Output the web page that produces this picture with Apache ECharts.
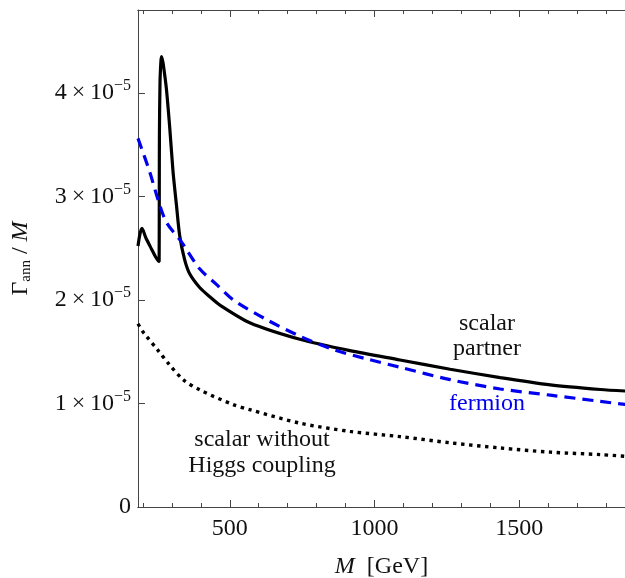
<!DOCTYPE html>
<html>
<head>
<meta charset="utf-8">
<script src="https://cdn.jsdelivr.net/npm/echarts@6.0.0/dist/echarts.min.js"></script>
<style>
  html, body { margin: 0; padding: 0; background: #fff; }
  #chart { width: 625px; height: 578px; }
</style>
</head>
<body>
<div id="chart"></div>
<script>
// values, y in units of 1e-5
var scalarPartner = [
  [183, 2.52], [190, 2.64], [197, 2.69], [210, 2.6], [230, 2.49], [245, 2.41], [256, 2.37],
  [256.5, 3.0], [257, 3.6], [259, 4.1], [262, 4.3], [264, 4.35], [267, 4.32], [270, 4.28],
  [281, 4.04], [293, 3.65], [304, 3.24], [316, 2.91], [327, 2.62], [344, 2.39], [362, 2.25],
  [396, 2.12], [431, 2.03], [466, 1.95], [569, 1.78], [742, 1.62], [915, 1.51], [1088, 1.42],
  [1261, 1.33], [1434, 1.25], [1607, 1.18], [1780, 1.135], [1866, 1.12]
]
var fermion = [
  [183, 3.56], [223, 3.24], [252, 2.97], [281, 2.75], [333, 2.56], [396, 2.3], [454, 2.15],
  [512, 2.0], [627, 1.81], [742, 1.65], [858, 1.52], [973, 1.43], [1088, 1.35], [1261, 1.23],
  [1434, 1.14], [1607, 1.08], [1780, 1.02], [1866, 0.99]
]
var scalarNoHiggs = [
  [183, 1.77], [198, 1.7], [212, 1.65], [250, 1.52], [290, 1.38], [339, 1.23], [397, 1.13],
  [511, 0.99], [569, 0.94], [742, 0.81], [915, 0.73], [1088, 0.68], [1261, 0.62], [1434, 0.57],
  [1607, 0.53], [1780, 0.506], [1866, 0.49]
]
var majorTicks = [500, 1000, 1500]
var minorTicks = [200, 300, 400, 600, 700, 800, 900, 1100, 1200, 1300, 1400, 1600, 1700, 1800]
var yTicks = [0, 1, 2, 3, 4]

var serif = 'Liberation Serif'
var frameColor = '#444'
var txt = '#111'

function xAxisDef(pos, ticks, len, labels) {
  return {
    type: 'value',
    position: pos,
    min: 183,
    max: 1865,
    splitLine: { show: false },
    axisLine: { show: true, onZero: false, lineStyle: { color: frameColor, width: 1 } },
    axisTick: { show: true, inside: true, length: len, customValues: ticks, lineStyle: { color: frameColor } },
    axisLabel: labels ? {
      customValues: majorTicks,
      formatter: function (v) { return String(v) },
      fontFamily: serif, fontSize: 24, color: txt, margin: 10
    } : { show: false }
  }
}

var xAxes = [
  xAxisDef('bottom', majorTicks, 7, true),
  xAxisDef('bottom', minorTicks, 4, false),
  xAxisDef('top', majorTicks, 7, false),
  xAxisDef('top', minorTicks, 4, false)
]
xAxes[0].name = '{i|M}{g|  [GeV]}'
xAxes[0].nameLocation = 'middle'
xAxes[0].nameGap = 48
xAxes[0].nameTextStyle = {
  rich: {
    i: { fontFamily: serif, fontStyle: 'italic', fontSize: 24, color: txt },
    g: { fontFamily: serif, fontSize: 24, color: txt }
  }
}

var myChart = echarts.init(document.getElementById('chart'))

var option = {
  animation: false,
  grid: { left: 138, right: 0, top: 10, bottom: 71, containLabel: false, outerBoundsMode: 'none' },
  xAxis: xAxes,
  yAxis: [{
    type: 'value',
    min: 0,
    max: 4.8,
    interval: 1,
    splitLine: { show: false },
    axisLine: { show: true, lineStyle: { color: frameColor, width: 1 } },
    axisTick: { show: true, inside: true, length: 7, customValues: yTicks, lineStyle: { color: frameColor } },
    axisLabel: {
      customValues: yTicks,
      margin: 7,
      formatter: function (v) {
        if (v === 0) return '{n|0}'
        return '{n|' + v + '\u2009\u00d7\u200910}{sup|\u22125}'
      },
      rich: {
        n: { fontFamily: serif, fontSize: 24, color: txt },
        sup: { fontFamily: serif, fontSize: 16, color: txt, padding: [0, 0, 14, 0] }
      }
    },
    name: '{g|\u0393}{sub|ann}{g| / }{i|M}',
    nameLocation: 'middle',
    nameGap: 104,
    nameTextStyle: {
      rich: {
        g: { fontFamily: serif, fontSize: 24, color: txt },
        i: { fontFamily: serif, fontStyle: 'italic', fontSize: 24, color: txt },
        sub: { fontFamily: serif, fontSize: 15, color: txt, padding: [12, 0, 0, 0] }
      }
    }
  }],
  series: [
    {
      name: 'scalar partner',
      type: 'line',
      data: scalarPartner,
      showSymbol: false,
      smooth: 0.25,
      lineStyle: { color: '#000', width: 3.2 },
      z: 3
    },
    {
      name: 'fermion',
      type: 'line',
      data: fermion,
      showSymbol: false,
      smooth: 0.3,
      lineStyle: { color: '#0000ee', width: 3.2, type: [11, 7] },
      z: 4
    },
    {
      name: 'scalar without Higgs coupling',
      type: 'line',
      data: scalarNoHiggs,
      showSymbol: false,
      smooth: 0.3,
      lineStyle: { color: '#000', width: 3.4, type: [3.4, 4.6] },
      z: 2
    }
  ],
  graphic: [
    {
      type: 'text', x: 487, y: 336,
      style: { text: 'scalar\npartner', fontFamily: serif, fontSize: 24, lineHeight: 25, fill: txt, align: 'center', verticalAlign: 'middle' }
    },
    {
      type: 'text', x: 487, y: 404,
      style: { text: 'fermion', fontFamily: serif, fontSize: 24, fill: '#0000ee', align: 'center', verticalAlign: 'middle' }
    },
    {
      type: 'text', x: 262, y: 453,
      style: { text: 'scalar without\nHiggs coupling', fontFamily: serif, fontSize: 24, lineHeight: 26, fill: txt, align: 'center', verticalAlign: 'middle' }
    }
  ]
}
myChart.setOption(option)
</script>
</body>
</html>
